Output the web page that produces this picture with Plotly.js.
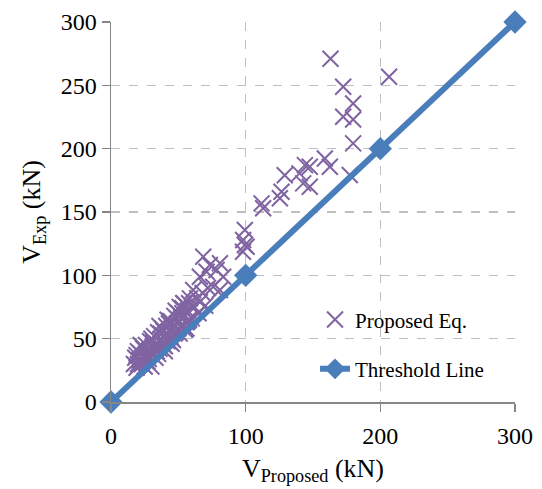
<!DOCTYPE html>
<html>
<head>
<meta charset="utf-8">
<script src="https://cdn.plot.ly/plotly-3.0.1.min.js"></script>
<style>html,body{margin:0;padding:0;background:#fff;}#chart{width:542px;height:489px;}</style>
</head>
<body>
<div id="chart"></div>
<script>
// Proposed Eq. points (V_Proposed, V_Exp) in kN
const vProposed = [
  17,18,19,20,20,21,22,22,23,24,24,25,25,26,26,27,28,28,29,30,30,30,31,32,32,33,34,34,35,35,
  36,36,37,38,38,39,40,40,40,41,42,42,43,44,44,45,45,46,46,47,48,48,49,50,50,51,52,52,53,54,
  54,55,55,56,56,57,58,58,60,60,62,64,65,66,68,70,72,
  19,23,27,31,33,37,41,43,47,49,53,57,29,39,45,51,
  53.6,58.6,61,66,68.5,71,73.4,75.9,78.4,80.9,80.9,83.3,98,100.7,
  99.4,98.1,99.4,111.8,113,125.4,126.6,129,140,142.7,144,147.6,147.6,
  158.8,162.5,177.3,179.8,179.8,172.4,179.8,172.4,163,206.5
];
const vExp = [
  30,35,27,40,30,33,38,45,30,42,35,36,28,45,38,32,40,34,48,38,50,28,44,52,42,35,46,40,55,38,
  42,60,50,58,48,45,53,44,40,60,48,65,56,64,52,50,46,58,49,68,55,72,62,70,58,54,66,60,74,60,
  78,68,57,63,58,72,78,65,66,75,75,82,70,79,86,76,90,
  37,44,36,47,41,54,51,62,54,66,70,64,41,56,63,75,
  77.9,81.8,88.4,98.9,114.7,102.8,108.1,91,104.2,109.5,88.4,98.9,118.6,122.6,
  135.8,127.9,124,156.8,152.9,160.8,166,179,180.5,172.6,187,185.7,170,
  192.3,185.7,179.2,204.2,223,225.2,235.7,248.9,271,256.8
];
// Threshold line
const thrX = [0, 100, 200, 300];
const thrY = [0, 100, 200, 300];

const serif = '"Liberation Serif", "Times New Roman", serif';

const traces = [
  {
    x: vProposed, y: vExp, type: 'scatter', mode: 'markers', name: 'Proposed Eq.',
    legendgroup: 'a',
    marker: {symbol: 'x-thin-open', size: 16, color: '#8064A2', line: {color: '#8064A2', width: 2}},
    cliponaxis: false
  },
  {
    x: thrX, y: thrY, type: 'scatter', mode: 'lines+markers', name: 'Threshold Line',
    legendgroup: 'b',
    line: {color: '#4A7EBB', width: 6},
    marker: {symbol: 'diamond', size: 18, color: '#4A7EBB'},
    cliponaxis: false
  }
];

const layout = {
  width: 542, height: 489,
  margin: {l: 111, r: 27, t: 22, b: 87},
  paper_bgcolor: '#fff', plot_bgcolor: '#fff',
  font: {family: serif, size: 24, color: '#000'},
  showlegend: true,
  legend: {
    x: 0.505, y: 0.27, xanchor: 'left', yanchor: 'top',
    bgcolor: 'rgba(0,0,0,0)', font: {family: serif, size: 21, color: '#000'},
    tracegroupgap: 19, itemwidth: 30
  },
  xaxis: {
    range: [0, 300], tickvals: [0, 100, 200, 300], ticktext: ['0','100','200','300'],
    showgrid: true, gridcolor: '#BFBFBF', griddash: 'dash', gridwidth: 1.5,
    zeroline: false, showline: true, linecolor: '#868686', linewidth: 1.5,
    ticks: 'outside', ticklen: 8, tickcolor: '#868686', tickwidth: 1.5,
    ticklabelstandoff: 4,
    tickfont: {family: serif, size: 24},
    title: {text: 'V<sub>Proposed</sub> (kN)', font: {family: serif, size: 26}, standoff: 10}
  },
  yaxis: {
    range: [0, 300], tickvals: [0, 50, 100, 150, 200, 250, 300],
    showgrid: true, gridcolor: '#BFBFBF', griddash: 'dash', gridwidth: 1.5,
    zeroline: false, showline: true, linecolor: '#868686', linewidth: 1.5,
    ticks: 'outside', ticklen: 8, tickcolor: '#868686', tickwidth: 1.5,
    tickfont: {family: serif, size: 24},
    title: {text: 'V<sub>Exp</sub> (kN)', font: {family: serif, size: 26}, standoff: 12}
  }
};

Plotly.newPlot('chart', traces, layout, {displayModeBar: false, staticPlot: true});
</script>
</body>
</html>
